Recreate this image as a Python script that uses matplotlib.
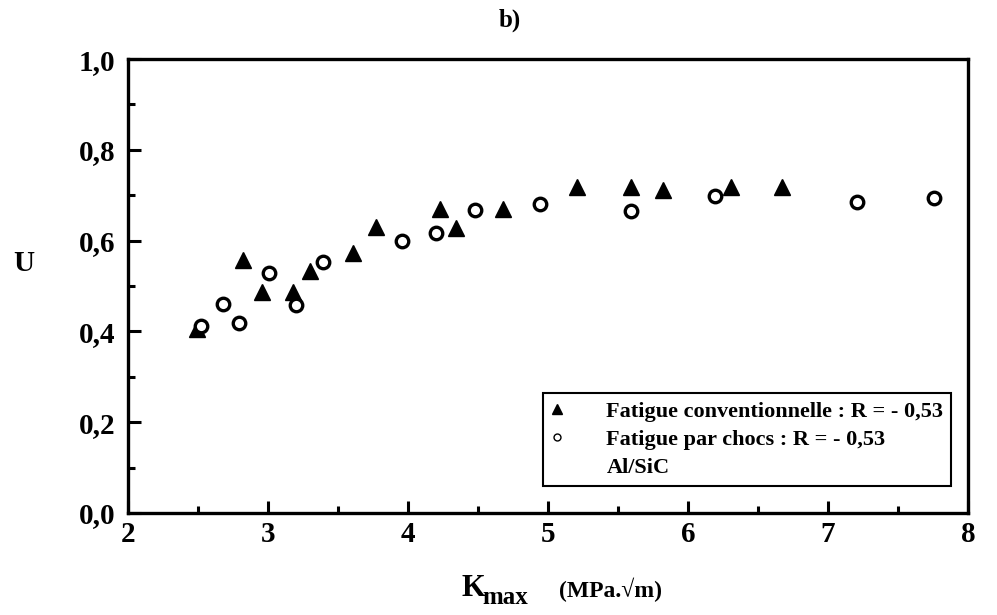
import matplotlib
matplotlib.use("Agg")
import matplotlib.pyplot as plt
from matplotlib.lines import Line2D
from matplotlib.ticker import MultipleLocator

plt.rcParams['font.family'] = ['Liberation Serif', 'DejaVu Serif']
plt.rcParams['font.weight'] = 'bold'

# Fatigue conventionnelle (triangles)
conv_k = [2.49, 2.82, 2.96, 3.18, 3.30, 3.61, 3.77, 4.23, 4.34, 4.68, 5.21, 5.59, 5.82, 6.31, 6.67]
conv_u = [0.405, 0.557, 0.487, 0.487, 0.533, 0.573, 0.630, 0.670, 0.628, 0.670, 0.718, 0.718, 0.711, 0.718, 0.718]

# Fatigue par chocs (cercles)
choc_k = [2.52, 2.68, 2.79, 3.01, 3.20, 3.39, 3.96, 4.20, 4.48, 4.94, 5.59, 6.19, 7.21, 7.76]
choc_u = [0.412, 0.460, 0.419, 0.529, 0.458, 0.553, 0.599, 0.617, 0.667, 0.680, 0.665, 0.698, 0.685, 0.695]

x_ticks = [2, 3, 4, 5, 6, 7, 8]
y_ticks = [0.0, 0.2, 0.4, 0.6, 0.8, 1.0]
y_labels = ['0,0', '0,2', '0,4', '0,6', '0,8', '1,0']

fig = plt.figure(figsize=(9.97, 6.15), dpi=100)
ax = fig.add_axes([0.1284, 0.1659, 0.8425, 0.738])

ax.plot(conv_k, conv_u, linestyle='none', marker='^', ms=12, color='black')
ax.plot(choc_k, choc_u, linestyle='none', marker='o', ms=9, mfc='white',
        mec='black', mew=2.4)

ax.set_xlim(2, 8)
ax.set_ylim(0, 1)
ax.set_xticks(x_ticks)
ax.set_yticks(y_ticks)
ax.set_yticklabels(y_labels)
ax.xaxis.set_minor_locator(MultipleLocator(0.5))
ax.yaxis.set_minor_locator(MultipleLocator(0.1))
ax.tick_params(which='both', direction='in', width=2.2, labelsize=21)
ax.tick_params(which='major', length=9)
ax.tick_params(which='minor', length=5)
ax.tick_params(axis='x', pad=6)
ax.tick_params(axis='y', pad=9)
for s in ax.spines.values():
    s.set_linewidth(2.4)

handles = [
    Line2D([], [], linestyle='none', marker='^', ms=7, color='black'),
    Line2D([], [], linestyle='none', marker='o', ms=5, mfc='white', mec='black',
           mew=1.0),
    Line2D([], [], linestyle='none'),
]
labels = ['Fatigue conventionnelle : R = - 0,53',
          'Fatigue par chocs : R = - 0,53',
          'Al/SiC']
leg = ax.legend(handles, labels, loc='lower left', bbox_to_anchor=(0.494, 0.059),
                frameon=True, fancybox=False, edgecolor='black', framealpha=1,
                prop={'size': 16, 'weight': 'bold'}, handlelength=0.6,
                handletextpad=1.9, labelspacing=0.35, borderpad=0.35,
                borderaxespad=0)
leg.get_frame().set_linewidth(1.5)

fig.text(510 / 997, 1 - 20 / 615, 'b)', ha='center', va='center', fontsize=18,
         fontweight='bold')
fig.text(24 / 997, 1 - 264 / 615, 'U', ha='center', va='center', fontsize=21,
         fontweight='bold')
fig.text(473 / 997, 1 - 588 / 615, 'K', ha='center', va='center', fontsize=22,
         fontweight='bold')
fig.text(505 / 997, 1 - 597 / 615, 'max', ha='center', va='center', fontsize=18,
         fontweight='bold')
fig.text(610 / 997, 1 - 590 / 615, '(MPa.√m)', ha='center', va='center',
         fontsize=17, fontweight='bold')

fig.savefig('out.png', dpi=100)
